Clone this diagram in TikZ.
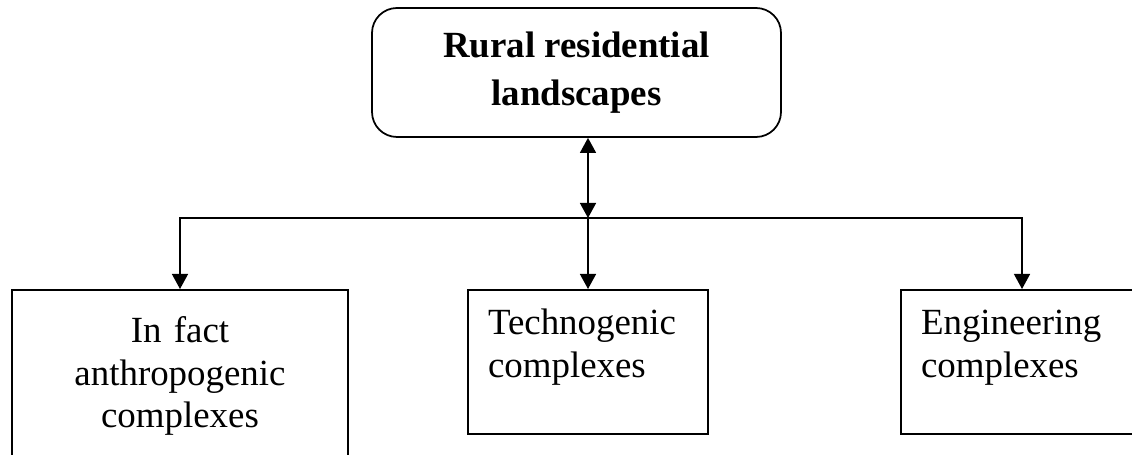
\documentclass[tikz,border=0pt]{standalone}
\usepackage{fontspec}
\setmainfont{Liberation Serif}
\usetikzlibrary{arrows.meta, positioning}
\tikzset{
  topbox/.style={
    rectangle, rounded corners=0.5cm, minimum width=8.18cm, minimum height=2.58cm,
    align=center, draw=black, line width=1pt,
    font=\fontsize{21}{27}\selectfont\bfseries
  },
  subbox/.style={
    rectangle, draw=black, line width=1pt, anchor=north,
    inner xsep=0.4cm, inner ysep=0pt, text height=0.9cm, text depth=1.98cm,
    font=\fontsize{21}{24}\selectfont
  },
  arrow/.style={
    -{Triangle[length=0.3cm, width=0.32cm]}, line width=0.8pt, color=black
  },
  twoway/.style={
    arrow, {Triangle[length=0.3cm, width=0.32cm]}-{Triangle[length=0.3cm, width=0.32cm]}
  }
}

\begin{document}
\begin{tikzpicture}
\useasboundingbox (0,0) rectangle (22.64,9.1);

% Landscape type
\node (rural) [topbox] at (11.53,7.65) {Rural residential\\landscapes};

% Branch point
\coordinate (hub) at (11.76,4.74);

% Complexes
\node (anthro) [subbox, text width=5.92cm, align=center, text height=1.06cm, text depth=3cm] at (3.6,3.32) {In fact\\anthropogenic\\complexes};
\node (techno) [subbox, text width=4.0cm, align=left] at (11.76,3.32) {Technogenic\\complexes};
\node (engin) [subbox, text width=4.04cm, align=left] at (20.44,3.32) {Engineering\\complexes};

% Arrows
\draw [twoway] (rural.south -| hub) -- (hub);
\draw [arrow] (hub) -| (anthro.north);
\draw [arrow] (hub) -- (techno.north);
\draw [arrow] (hub) -| (engin.north);

\end{tikzpicture}
\end{document}
